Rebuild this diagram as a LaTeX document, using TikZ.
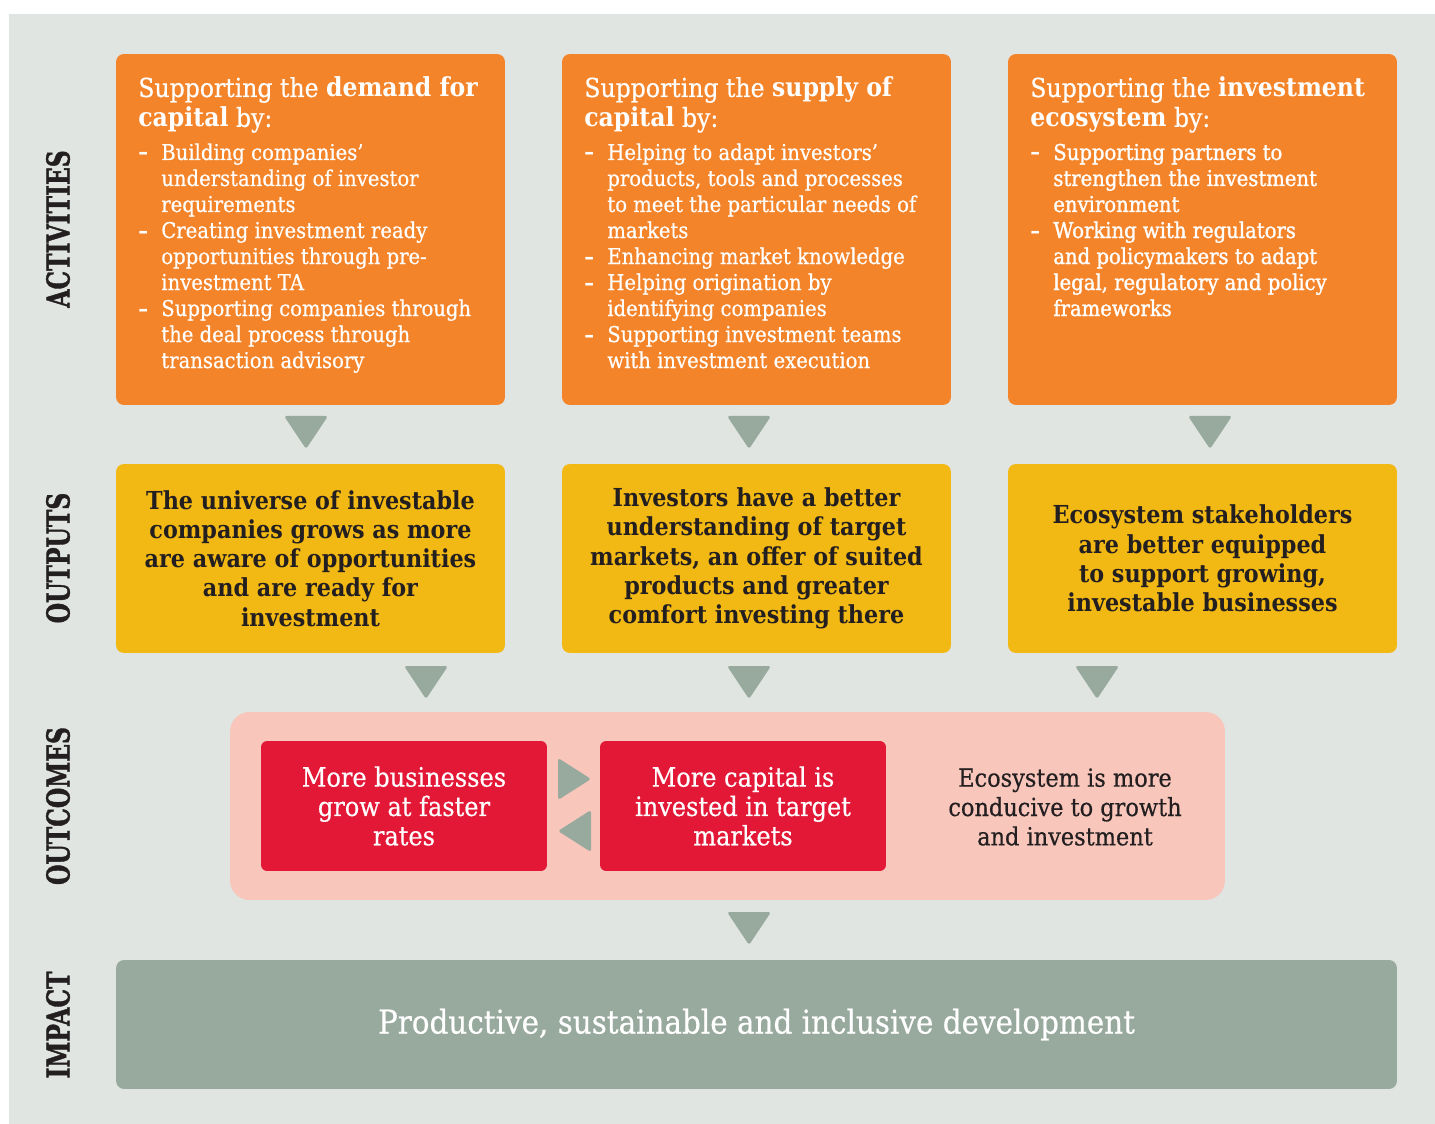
\documentclass[tikz,border=0pt]{standalone}
\usepackage{fontspec}
\setmainfont{DejaVu Serif}[FakeStretch=0.9,UprightFeatures={FakeBold=0.5}]
\newfontfamily\semifont{DejaVu Serif}[FakeStretch=0.9,UprightFeatures={FakeBold=1.3}]
\newfontfamily\tagfont{DejaVu Serif}[FakeStretch=0.74,BoldFeatures={FakeBold=1.2}]
\usetikzlibrary{positioning}

\definecolor{panel}{HTML}{E0E5E1}
\definecolor{actorange}{HTML}{F4842A}
\definecolor{outyellow}{HTML}{F2B814}
\definecolor{outpink}{HTML}{F8C6BB}
\definecolor{outred}{HTML}{E31837}
\definecolor{sage}{HTML}{98A99E}
\definecolor{ink}{HTML}{231F20}

\begin{document}
\begin{tikzpicture}[
    x=0.02cm, y=-0.02cm,
    box/.style={rectangle,rounded corners=4.5pt,inner sep=0pt},
    actbox/.style={box,fill=actorange,minimum width=7.78cm,minimum height=7.02cm},
    outbox/.style={box,fill=outyellow,minimum width=7.78cm,minimum height=3.78cm,
        align=center,text=ink,font=\bfseries\fontsize{14.1}{16.6}\selectfont},
    resbox/.style={box,fill=outred,rounded corners=3.5pt,minimum width=5.72cm,minimum height=2.6cm,
        align=center,text=white,font=\fontsize{15.2}{16.7}\selectfont},
    head/.style={anchor=base west,inner sep=0pt,text=white,font=\fontsize{14.9}{17}\selectfont},
    items/.style={anchor=base west,inner sep=0pt,text=white,font=\fontsize{12.4}{14.8}\selectfont},
    tag/.style={rotate=90,inner sep=0pt,text=ink,font=\tagfont\bfseries\fontsize{18}{20}\selectfont},
    marker/.style={fill=sage,rounded corners=1.5pt}
]
    \useasboundingbox (0,0) rectangle (1435,1124);
    \fill[white] (0,0) rectangle (1435,1124);
    \fill[panel] (9,14) rectangle (1435,1124);

    % row labels
    \node[tag] (lact) at (58,229) {ACTIVITIES};
    \node[tag] (lout) at (58,558) {OUTPUTS};
    \node[tag] (lres) at (58,806) {OUTCOMES};
    \node[tag] (limp) at (58,1025) {IMPACT};

    % activities
    \node[actbox] (act1) at (310.5,229.5) {};
    \node[actbox] (act2) at (756.5,229.5) {};
    \node[actbox] (act3) at (1202.5,229.5) {};

    \node[head] (act1h) at (138,97) {\begin{tabular}[t]{@{}l@{}}
        Supporting the \textbf{demand for}\\ \textbf{capital} by:\end{tabular}};
    \node[items] (act1i) at (138,160) {\begin{tabular}[t]{@{}p{0.46cm}@{}l@{}}
        \textbf{–} & Building companies’\\
          & understanding of investor\\
          & requirements\\
        \textbf{–} & Creating investment ready\\
          & opportunities through pre-\\
          & investment TA\\
        \textbf{–} & Supporting companies through\\
          & the deal process through\\
          & transaction advisory\end{tabular}};

    \node[head] (act2h) at (584,97) {\begin{tabular}[t]{@{}l@{}}
        Supporting the \textbf{supply of}\\ \textbf{capital} by:\end{tabular}};
    \node[items] (act2i) at (584,160) {\begin{tabular}[t]{@{}p{0.46cm}@{}l@{}}
        \textbf{–} & Helping to adapt investors’\\
          & products, tools and processes\\
          & to meet the particular needs of\\
          & markets\\
        \textbf{–} & Enhancing market knowledge\\
        \textbf{–} & Helping origination by\\
          & identifying companies\\
        \textbf{–} & Supporting investment teams\\
          & with investment execution\end{tabular}};

    \node[head] (act3h) at (1030,97) {\begin{tabular}[t]{@{}l@{}}
        Supporting the \textbf{investment}\\ \textbf{ecosystem} by:\end{tabular}};
    \node[items,font=\semifont\fontsize{12.4}{14.8}\selectfont] (act3i) at (1030,160)
        {\begin{tabular}[t]{@{}p{0.46cm}@{}l@{}}
        \textbf{–} & Supporting partners to\\
          & strengthen the investment\\
          & environment\\
        \textbf{–} & Working with regulators\\
          & and policymakers to adapt\\
          & legal, regulatory and policy\\
          & frameworks\end{tabular}};

    % outputs
    \node[outbox] (out1) at (310.5,558.5) {The universe of investable\\ companies grows as more\\
        are aware of opportunities\\ and are ready for\\ investment};
    \node[outbox] (out2) at (756.5,558.5) {Investors have a better\\ understanding of target\\
        markets, an offer of suited\\ products and greater\\ comfort investing there};
    \node[outbox] (out3) at (1202.5,558.5) {Ecosystem stakeholders\\ are better equipped\\
        to support growing,\\ investable businesses};

    % outcomes
    \node[box,fill=outpink,rounded corners=11pt,minimum width=19.9cm,minimum height=3.76cm]
        (band) at (727.5,806) {};
    \node[resbox] (res1) at (404,806) {More businesses\\ grow at faster\\ rates};
    \node[resbox] (res2) at (743,806) {More capital is\\ invested in target\\ markets};
    \node[align=center,text=ink,font=\fontsize{14.2}{16.7}\selectfont]
        (res3) at (1065,807) {Ecosystem is more\\ conducive to growth\\ and investment};

    % impact
    \node[box,fill=sage,minimum width=25.62cm,minimum height=2.58cm,text=white,
        font=\fontsize{18.6}{20}\selectfont] (imp) at (756.5,1024.5)
        {Productive, sustainable and inclusive development};

    % flow markers
    \foreach \x/\y in {306/416,749/416,1210/416,426/666,749/666,1097/666,749/912}
        \fill[marker] (\x-22,\y) -- (\x+22,\y) -- (\x,\y+33) -- cycle;
    \fill[marker] (558,758) -- (591,779) -- (558,800) -- cycle;
    \fill[marker] (591,810) -- (558,831) -- (591,852) -- cycle;
\end{tikzpicture}
\end{document}
